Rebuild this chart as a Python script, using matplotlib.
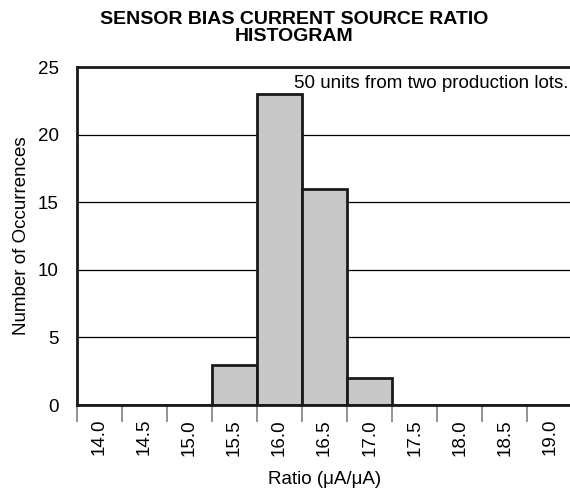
import numpy as np
import matplotlib
matplotlib.use('Agg')
import matplotlib.pyplot as plt

# 数据：比值分箱中心与出现次数
ratio_bins = [14.0, 14.5, 15.0, 15.5, 16.0, 16.5, 17.0, 17.5, 18.0, 18.5, 19.0]
counts = [0, 0, 0, 3, 23, 16, 2, 0, 0, 0, 0]
tick_labels = ['14.0', '14.5', '15.0', '15.5', '16.0', '16.5', '17.0',
               '17.5', '18.0', '18.5', '19.0']
y_ticks = [0, 5, 10, 15, 20, 25]

plt.rcParams['font.family'] = ['Liberation Sans', 'DejaVu Sans']

fig = plt.figure(figsize=(5.7, 4.91), dpi=100)
ax = fig.add_axes([0.135, 0.175, 0.869, 0.6885])

width = 0.5
edges = [b - width / 2 for b in ratio_bins] + [ratio_bins[-1] + width / 2]

ax.bar(ratio_bins, counts, width=width, color='#c8c8c8', edgecolor='#1a1a1a',
       linewidth=2, zorder=3)

ax.set_xlim(edges[0], edges[-1])
ax.set_ylim(0, 25)

# 网格线
ax.set_yticks(y_ticks)
ax.yaxis.grid(True, color='black', linewidth=0.9, zorder=0)
ax.tick_params(axis='y', length=0, pad=13, labelsize=13.5)

# x 轴：标签位于分箱中心，刻度线位于分箱边界
ax.set_xticks(ratio_bins)
ax.set_xticklabels(tick_labels, rotation=90)
ax.tick_params(axis='x', which='major', length=0, pad=10, labelsize=13.5)
ax.set_xticks(edges[:-1], minor=True)
ax.tick_params(axis='x', which='minor', length=12, width=1.2, color='#808080',
               direction='out')

for side in ['left', 'top', 'bottom']:
    ax.spines[side].set_linewidth(2)
    ax.spines[side].set_color('#1a1a1a')
ax.spines['right'].set_visible(False)
ax.spines['bottom'].set_zorder(4)

ax.set_xlabel('Ratio (\u03bcA/\u03bcA)', fontsize=13.5, labelpad=11)
ax.set_ylabel('Number of Occurrences', fontsize=13.5, labelpad=6)

ax.text(0.993, 0.975, '50 units from two production lots.', transform=ax.transAxes,
        ha='right', va='top', fontsize=13.5, zorder=5)

fig.suptitle('SENSOR BIAS CURRENT SOURCE RATIO\nHISTOGRAM', x=0.516, y=0.978,
             fontsize=14, fontweight='bold', linespacing=1.05)

fig.savefig('out.png', dpi=100)
